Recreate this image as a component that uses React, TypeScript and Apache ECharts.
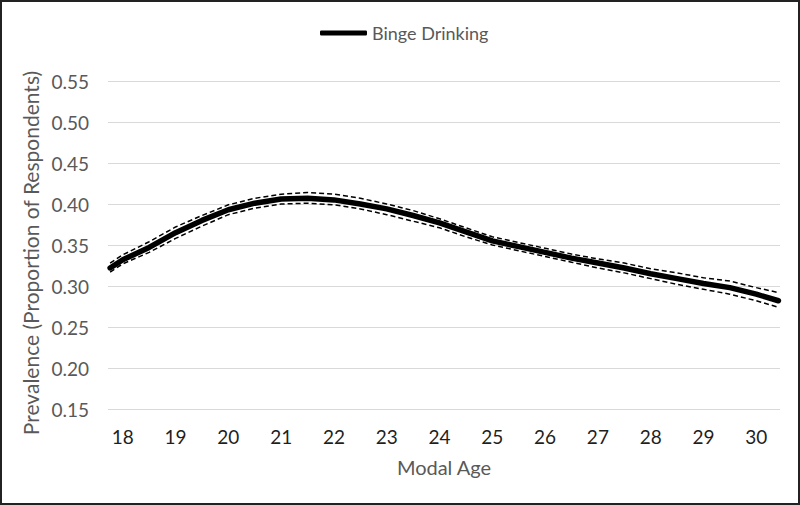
import React, { useEffect, useRef } from "react";
import * as echarts from "echarts";

const ages = [17.76, 18, 18.5, 19, 19.5, 20, 20.5, 21, 21.5, 22, 22.5, 23, 23.5, 24, 24.5, 25, 25.5, 26, 26.5, 27, 27.5, 28, 28.5, 29, 29.5, 30, 30.42];
const prevalence = [0.322, 0.332, 0.347, 0.365, 0.380, 0.393, 0.401, 0.406, 0.407, 0.405, 0.400, 0.394, 0.386, 0.377, 0.366, 0.355, 0.348, 0.341, 0.334, 0.328, 0.322, 0.315, 0.309, 0.303, 0.298, 0.290, 0.282];
const upperCI = [0.328, 0.338, 0.354, 0.372, 0.386, 0.399, 0.407, 0.412, 0.414, 0.412, 0.407, 0.400, 0.392, 0.382, 0.371, 0.360, 0.353, 0.346, 0.339, 0.333, 0.328, 0.321, 0.316, 0.310, 0.306, 0.298, 0.292];
const lowerCI = [0.317, 0.327, 0.341, 0.358, 0.373, 0.387, 0.395, 0.400, 0.401, 0.399, 0.394, 0.387, 0.379, 0.371, 0.360, 0.350, 0.343, 0.336, 0.329, 0.322, 0.316, 0.309, 0.302, 0.296, 0.290, 0.282, 0.274];
const xTickLabels = [18, 19, 20, 21, 22, 23, 24, 25, 26, 27, 28, 29, 30];

const FONT = "Lato, 'Open Sans', sans-serif";

export default function App() {
  const ref = useRef<HTMLDivElement>(null);
  useEffect(() => {
    document.body.style.margin = "0";
    const chart = echarts.init(ref.current!, null, { renderer: "svg" });
    const pair = (ys: number[]) => ages.map((a, i) => [a, ys[i]]);
    chart.setOption({
      animation: false,
      backgroundColor: "#ffffff",
      textStyle: { fontFamily: FONT },
      graphic: [
        {
          type: "rect",
          shape: { x: 1, y: 1, width: 798, height: 503 },
          style: { fill: "none", stroke: "#222222", lineWidth: 2 },
          silent: true,
          z: 100,
        },
      ],
      legend: {
        left: 320,
        top: 24,
        padding: 0,
        data: ["Binge Drinking"],
        icon: "roundRect",
        itemWidth: 47,
        itemHeight: 5,
        itemGap: 10,
        itemStyle: { color: "#000000" },
        textStyle: { fontSize: 18, color: "#595959", fontFamily: FONT },
      },
      grid: { left: 108, right: 20, top: 81, bottom: 96 },
      xAxis: {
        type: "value",
        min: 17.72,
        max: 30.45,
        name: "Modal Age",
        nameLocation: "middle",
        nameGap: 48,
        nameTextStyle: { fontSize: 20, color: "#595959", fontFamily: FONT },
        axisLine: { show: false },
        axisTick: { show: false },
        splitLine: { show: false },
        axisLabel: {
          customValues: xTickLabels,
          fontSize: 19,
          color: "#1f1f1f",
          margin: 18,
          fontFamily: FONT,
          formatter: (v: number) => String(Math.round(v)),
        },
      },
      yAxis: {
        type: "value",
        min: 0.15,
        max: 0.55,
        interval: 0.05,
        name: "Prevalence (Proportion of Respondents)",
        nameLocation: "middle",
        nameGap: 66,
        nameTextStyle: { fontSize: 21, color: "#595959", fontFamily: FONT, padding: [0, 16, 0, 0] },
        axisLine: { show: false },
        axisTick: { show: false },
        splitLine: { lineStyle: { color: "#d9d9d9", width: 1.2 } },
        axisLabel: {
          fontSize: 19,
          color: "#595959",
          margin: 19,
          fontFamily: FONT,
          formatter: (v: number) => v.toFixed(2),
        },
      },
      series: [
        {
          name: "Upper",
          type: "line",
          data: pair(upperCI),
          symbol: "none",
          lineStyle: { color: "#000000", width: 1.5, type: [5, 3] },
          z: 2,
        },
        {
          name: "Lower",
          type: "line",
          data: pair(lowerCI),
          symbol: "none",
          lineStyle: { color: "#000000", width: 1.5, type: [5, 3] },
          z: 2,
        },
        {
          name: "Binge Drinking",
          type: "line",
          data: pair(prevalence),
          symbol: "none",
          itemStyle: { color: "#000000" },
          lineStyle: { color: "#000000", width: 5.5, cap: "round", join: "round" },
          z: 3,
        },
      ],
    });
    return () => chart.dispose();
  }, []);
  return <div ref={ref} style={{ width: 800, height: 505 }} />;
}
